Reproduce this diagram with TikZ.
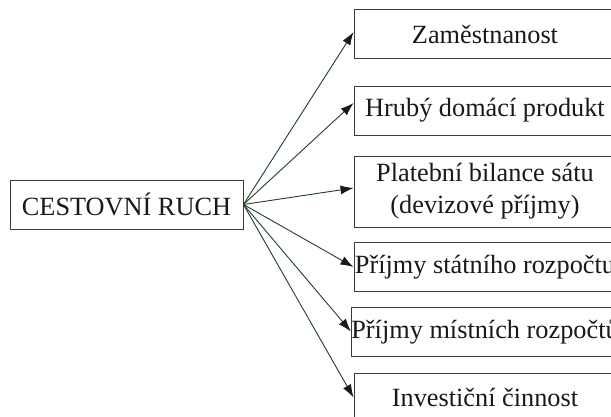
\documentclass[tikz,border=0pt]{standalone}
\usepackage{fontspec}
\setmainfont{Liberation Serif}
\usetikzlibrary{arrows.meta}
\definecolor{linegreen}{HTML}{1F4029}
\definecolor{boxline}{HTML}{3A3A3A}
\tikzset{
  box/.style={draw=boxline, line width=0.9pt, inner sep=0pt, align=center,
    font=\fontsize{26.3}{32}\selectfont, text=black!90},
  lbox/.style={box, minimum width=233pt, minimum height=49pt},
  rbox/.style={box, minimum width=262pt, minimum height=49pt},
  conn/.style={draw=linegreen, line width=0.9pt,
    -{Latex[length=13pt,width=9pt,black!90]}}
}
\begin{document}
\begin{tikzpicture}[x=1pt,y=-1pt]
\path[use as bounding box] (0,0) rectangle (611,417);
\clip (0,0) rectangle (611,417);
\node[lbox] (c) at (126.5,204.5) {CESTOVNÍ RUCH};
\node[rbox] (b1) at (485,34) {Zaměstnanost};
\node[rbox] (b2) at (485,110.5) {Hrubý domácí produkt};
\node[rbox, minimum height=71pt] (b3) at (485,191.5) {Platební bilance sátu\\(devizové příjmy)};
\node[rbox] (b4) at (485,267) {Příjmy státního rozpočtu};
\node[rbox] (b5) at (485,331.5) {Příjmy místních rozpočtů};
\node[rbox] (b6) at (485,397.5) {Investiční činnost};
\coordinate (o) at (c.east);
\draw[conn] (o) -- ([yshift=2pt]b1.west);
\draw[conn] (o) -- ([yshift=7.5pt]b2.west);
\draw[conn] (o) -- ([yshift=3.5pt]b3.west);
\draw[conn] (o) -- (b4.west);
\draw[conn] (o) -- (b5.west);
\draw[conn] (o) -- (b6.west);
\end{tikzpicture}
\end{document}
